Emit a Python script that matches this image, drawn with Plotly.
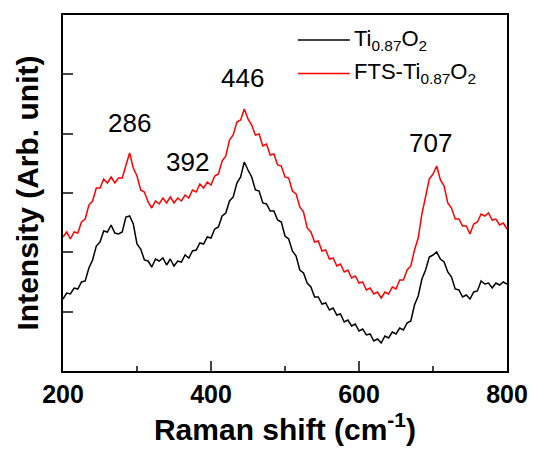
import plotly.graph_objects as go

raman_shift = list(range(200, 801, 5))

ti_o2 = [72, 78, 77, 83, 82, 89, 90, 103, 111, 125, 129, 140, 139, 146, 138, 137, 139, 154, 155, 147,
         127, 122, 111, 110, 104, 112, 110, 113, 106, 112, 105, 110, 109, 116, 113, 120, 121, 128, 127, 134,
         133, 142, 144, 155, 158, 170, 174, 188, 194, 209, 201, 194, 181, 180, 168, 167, 160, 160, 151, 149,
         135, 132, 120, 115, 101, 98, 88, 84, 74, 74, 67, 68, 61, 63, 56, 57, 49, 51, 45, 47,
         40, 42, 36, 37, 30, 32, 28, 35, 33, 39, 37, 43, 41, 48, 50, 66, 75, 92, 101, 114,
         116, 119, 112, 109, 99, 94, 82, 81, 74, 76, 72, 79, 80, 90, 87, 88, 83, 88, 86, 89, 87]

fts_ti_o2 = [134, 139, 132, 139, 138, 149, 152, 166, 170, 183, 183, 192, 188, 194, 188, 193, 193, 206, 218, 203,
             195, 181, 179, 169, 163, 170, 167, 173, 168, 174, 168, 173, 170, 176, 173, 181, 179, 187, 183, 189,
             186, 195, 197, 210, 215, 231, 236, 249, 251, 262, 252, 246, 236, 237, 225, 227, 216, 217, 206, 205,
             194, 193, 180, 177, 164, 159, 143, 139, 129, 130, 120, 121, 112, 113, 105, 107, 99, 101, 93, 95,
             88, 89, 81, 83, 77, 79, 73, 79, 77, 84, 82, 91, 91, 101, 105, 121, 133, 157, 173, 192,
             197, 205, 191, 185, 168, 163, 152, 152, 145, 145, 137, 147, 149, 157, 155, 158, 151, 152, 146, 148, 142]

peak_labels = ["286", "392", "446", "707"]
peak_x = [290, 368, 443, 696]
peak_y = [248, 209, 293, 228]

series_names = ["Ti<sub>0.87</sub>O<sub>2</sub>", "FTS-Ti<sub>0.87</sub>O<sub>2</sub>"]
series_colors = ["#000000", "#ff0000"]

FONT = "Liberation Sans, Arial"

fig = go.Figure()
for name, ys, col in zip(series_names, [ti_o2, fts_ti_o2], series_colors):
    fig.add_trace(go.Scatter(x=raman_shift, y=ys, mode="lines", name=name,
                             line=dict(color=col, width=1.5), showlegend=False))

for t, xv, yv in zip(peak_labels, peak_x, peak_y):
    fig.add_annotation(x=xv, y=yv, text=t, showarrow=False,
                       font=dict(family=FONT, size=26, color="black"))

# legend drawn as lines + text
legend_y = [0.930, 0.836]
for name, col, ly in zip(series_names, series_colors, legend_y):
    fig.add_shape(type="line", xref="x domain", yref="y domain", x0=0.529, x1=0.646, y0=ly, y1=ly,
                  line=dict(color=col, width=1.5))
    fig.add_annotation(xref="x domain", yref="y domain", x=0.652, y=ly, text=name, showarrow=False,
                       xanchor="left", yanchor="middle", font=dict(family=FONT, size=22, color="black"))

fig.update_layout(
    width=533, height=457,
    margin=dict(l=63, r=26, t=15, b=86),
    plot_bgcolor="white", paper_bgcolor="white",
    font=dict(family=FONT, color="black"),
    showlegend=False,
)
fig.update_xaxes(range=[200, 800], tickvals=[200, 400, 600, 800], ticks="inside", ticklen=10, tickwidth=2,
                 minor=dict(tickvals=[300, 500, 700], ticks="inside", ticklen=5, tickwidth=2),
                 showline=True, linewidth=2, linecolor="black", mirror=True, showgrid=False, zeroline=False,
                 automargin=False,
                 tickfont=dict(size=25, family=FONT, weight="bold"),
                 title=dict(text="<b>Raman shift (cm<sup>-1</sup>)</b>", font=dict(size=30), standoff=10))
fig.update_yaxes(range=[0, 356], tickvals=[59.3, 118.7, 178, 237.3, 296.7], ticks="inside", ticklen=10,
                 tickwidth=2, showticklabels=False, automargin=False,
                 showline=True, linewidth=2, linecolor="black", mirror=True, showgrid=False, zeroline=False,
                 title=dict(text="<b>Intensity (Arb. unit)</b>", font=dict(size=30), standoff=14))

fig.write_html("out.html")
